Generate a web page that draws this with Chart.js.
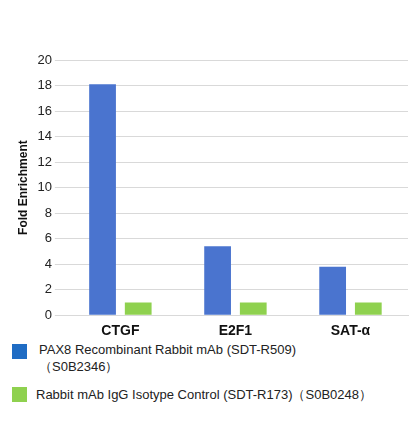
<!DOCTYPE html>
<html>
<head>
<meta charset="utf-8">
<script src="https://cdn.jsdelivr.net/npm/chart.js@4"></script>
<style>
body { margin: 0; background: #fff; font-family: Arial, "Liberation Sans", sans-serif; }
#wrap { position: relative; width: 416px; height: 340px; }
.leg { position: absolute; left: 12px; font-size: 13px; color: #222; line-height: 17px; }
.sq { position: absolute; left: 0; width: 15px; height: 15px; }
</style>
</head>
<body>
<div id="wrap"><canvas id="chart" width="416" height="340"></canvas></div>
<div class="leg" style="top:341px;"><div class="sq" style="top:3px;background:#1f6cc4"></div><div style="margin-left:27px">PAX8 Recombinant Rabbit mAb (SDT-R509)<br>（S0B2346）</div></div>
<div class="leg" style="top:386px;"><div class="sq" style="top:1px;background:#8fd14f"></div><div style="margin-left:24px">Rabbit mAb IgG Isotype Control (SDT-R173)（S0B0248）</div></div>
<script>
const categories = ['CTGF', 'E2F1', 'SAT-α'];
const pax8Values = [18.1, 5.4, 3.8];
const igGValues = [1, 1, 1];
const yTicks = [0, 2, 4, 6, 8, 10, 12, 14, 16, 18, 20];

new Chart(document.getElementById('chart'), {
    type: 'bar',
    data: {
        labels: categories,
        datasets: [
            { label: 'PAX8', data: pax8Values, backgroundColor: '#4a74cf', barPercentage: 0.75, categoryPercentage: 0.62 },
            { label: 'IgG', data: igGValues, backgroundColor: '#8fd14f', barPercentage: 0.75, categoryPercentage: 0.62 }
        ]
    },
    options: {
        responsive: false,
        animation: false,
        layout: { padding: { top: 60, right: 8, left: 12 } },
        plugins: { legend: { display: false }, tooltip: { enabled: false } },
        scales: {
            x: {
                grid: { display: false },
                border: { color: '#d9d9d9' },
                ticks: { color: '#111', font: { size: 14, weight: 'bold' }, padding: 0 }
            },
            y: {
                min: 0, max: 20,
                afterBuildTicks: axis => { axis.ticks = yTicks.map(v => ({ value: v })); },
                grid: { color: '#d9d9d9' },
                border: { display: false },
                ticks: { color: '#222', font: { size: 13 } },
                title: { display: true, text: 'Fold Enrichment', color: '#111', font: { size: 12, weight: 'bold' } }
            }
        }
    }
});
</script>
</body>
</html>
